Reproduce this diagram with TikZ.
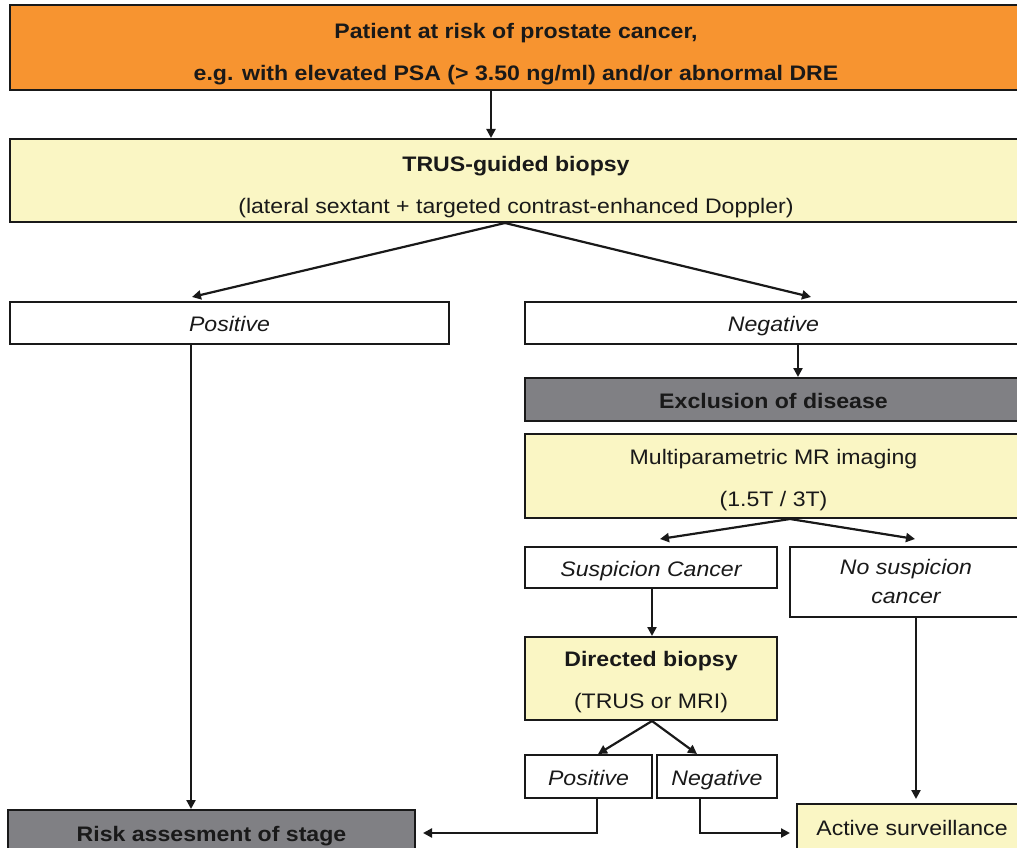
\documentclass[tikz,border=0pt]{standalone}
\usepackage{fontspec}
\setmainfont[FakeStretch=1.1]{Liberation Sans}
\usetikzlibrary{arrows.meta,calc}
\definecolor{orng}{RGB}{247,148,48}
\definecolor{ylw}{RGB}{250,246,196}
\definecolor{gry}{RGB}{128,128,132}
\definecolor{ink}{RGB}{25,25,25}
\begin{document}
\begin{tikzpicture}[x=1pt,y=-1pt,
  box/.style={draw=ink, line width=2pt, inner sep=0pt, align=center, text=ink,
    font=\fontsize{21}{42}\selectfont, text height=17pt, text depth=0pt},
  twoline/.style={text height=66pt, text depth=0pt},
  twolineb/.style={text height=60pt, text depth=0pt},
  arr/.style={draw=ink, line width=2.2pt, -{Triangle[length=9pt,width=9pt]}},
]
\clip (0,0) rectangle (1017,848);
\fill[white] (0,0) rectangle (1017,848);

\node[box, twoline, fill=orng, minimum width=1012pt, minimum height=85pt, font=\fontsize{21}{42}\selectfont\bfseries] (top) at (516,47.5)
  {Patient at risk of prostate cancer,\\e.g. with elevated PSA (> 3.50 ng/ml) and/or abnormal DRE};
\node[box, twoline, fill=ylw, minimum width=1012pt, minimum height=83pt] (trus) at (516,180.5)
  {\textbf{TRUS-guided biopsy}\\(lateral sextant + targeted contrast-enhanced Doppler)};
\node[box, fill=white, minimum width=439pt, minimum height=42pt, font=\fontsize{21}{42}\selectfont\itshape] (pos) at (229.5,323) {Positive};
\node[box, fill=white, minimum width=497pt, minimum height=42pt, font=\fontsize{21}{42}\selectfont\itshape] (neg) at (773.5,323) {Negative};
\node[box, fill=gry, minimum width=497pt, minimum height=43pt, font=\fontsize{21}{42}\selectfont\bfseries] (excl) at (773.5,399.5) {Exclusion of disease};
\node[box, twolineb, fill=ylw, minimum width=497pt, minimum height=84pt] (mri) at (773.5,476)
  {Multiparametric MR imaging\\(1.5T / 3T)};
\node[box, fill=white, minimum width=252pt, minimum height=41pt, font=\fontsize{21}{42}\selectfont\itshape] (susp) at (651,567.5) {Suspicion Cancer};
\node[box, fill=white, minimum width=232pt, minimum height=70pt, font=\fontsize{21}{29}\selectfont\itshape, text height=43pt, text depth=0pt] (nosusp) at (906,582) {No suspicion\\cancer};
\node[box, twolineb, fill=ylw, minimum width=252pt, minimum height=83pt] (dir) at (651,678.5)
  {\textbf{Directed biopsy}\\(TRUS or MRI)};
\node[box, fill=white, minimum width=127pt, minimum height=43pt, font=\fontsize{21}{42}\selectfont\itshape] (pos2) at (588.5,776.5) {Positive};
\node[box, fill=white, minimum width=120pt, minimum height=43pt, font=\fontsize{21}{42}\selectfont\itshape] (neg2) at (717,776.5) {Negative};
\node[box, fill=gry, minimum width=407pt, minimum height=46pt, font=\fontsize{21}{42}\selectfont\bfseries] (risk) at (211.5,833) {Risk assesment of stage};
\node[box, fill=ylw, minimum width=230pt, minimum height=46pt] (active) at (912,827) {Active surveillance};

\draw[arr] (top.south -| 491,0) -- (trus.north -| 491,0);
\draw[arr] (trus.south -| 505,0) -- ($(pos.north -| 192,0)+(0,-4)$);
\draw[arr] (trus.south -| 505,0) -- ($(neg.north -| 811,0)+(0,-4)$);
\draw[arr] (pos.south -| 191,0) -- (risk.north -| 191,0);
\draw[arr] (neg.south -| 798,0) -- (excl.north -| 798,0);
\draw[arr] (mri.south -| 790,0) -- ($(susp.north -| 660,0)+(0,-7)$);
\draw[arr] (mri.south -| 790,0) -- ($(nosusp.north -| 915,0)+(0,-7)$);
\draw[arr] (susp.south -| 652,0) -- (dir.north -| 652,0);
\draw[arr] (nosusp.south -| 916,0) -- ($(active.north -| 916,0)+(0,-4)$);
\draw[arr] (dir.south -| 652,0) -- (pos2.north -| 598,0);
\draw[arr] (dir.south -| 652,0) -- (neg2.north -| 697,0);
\draw[arr] (pos2.south -| 597,0) |- ($(risk.east)+(7,0)$);
\draw[arr] (neg2.south -| 700,0) |- ($(active.west |- 0,833)+(-6,0)$);
\end{tikzpicture}
\end{document}
